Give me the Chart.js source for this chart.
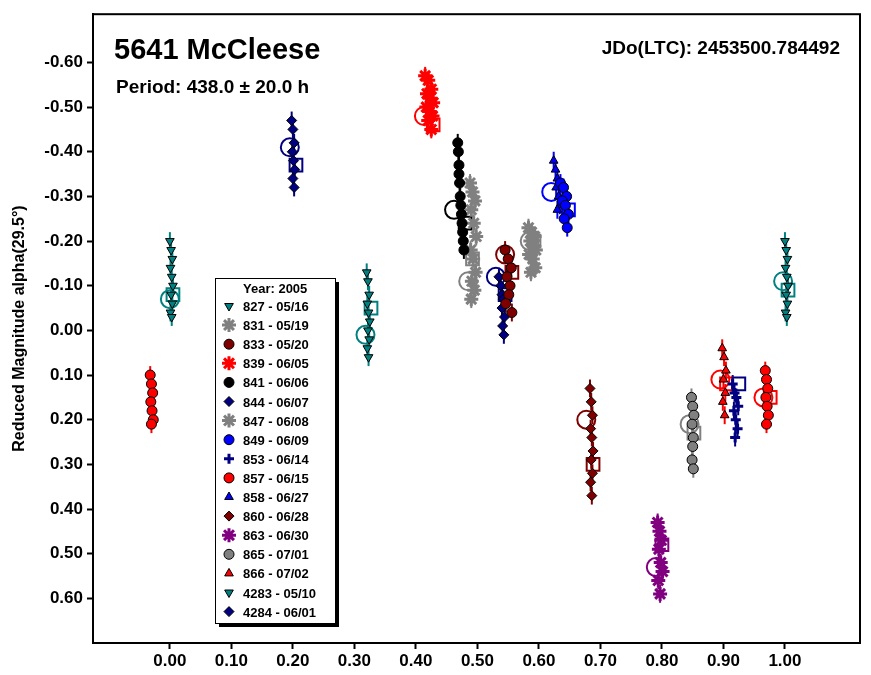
<!DOCTYPE html>
<html><head><meta charset="utf-8">
<script src="https://cdn.jsdelivr.net/npm/chart.js@4/dist/chart.umd.min.js"></script>
<style>body{margin:0;background:#fff}#wrap{width:871px;height:675px}</style>
</head><body><div id="wrap"><canvas id="c"></canvas></div>
<script>
const xTicks = [0, 0.1, 0.2, 0.3, 0.4, 0.5, 0.6, 0.7, 0.8, 0.9, 1.0]
const yTicks = [-0.6, -0.5, -0.4, -0.3, -0.2, -0.1, 0, 0.1, 0.2, 0.3, 0.4, 0.5, 0.6]

// sessions: label, color, marker, x, y
const s827x = [0.000, 0.002, 0.004, 0.001, 0.003, 0.005, 0.002, 0.004, 0.001, 0.003, 1.000, 1.002, 1.004, 1.001, 1.003, 1.005, 1.002, 1.004, 1.001, 1.003]
const s827y = [-0.20, -0.18, -0.16, -0.14, -0.12, -0.10, -0.08, -0.06, -0.04, -0.03, -0.20, -0.18, -0.16, -0.14, -0.12, -0.10, -0.08, -0.06, -0.04, -0.03]
const s831x = [0.583, 0.588, 0.593, 0.586, 0.591, 0.595, 0.584, 0.590, 0.594, 0.587]
const s831y = [-0.23, -0.22, -0.21, -0.20, -0.19, -0.18, -0.17, -0.16, -0.14, -0.13]
const s833x = [0.545, 0.550, 0.555, 0.548, 0.553, 0.551, 0.546, 0.556]
const s833y = [-0.18, -0.16, -0.14, -0.12, -0.10, -0.08, -0.06, -0.04]
const s839x = [0.415, 0.420, 0.425, 0.418, 0.423, 0.428, 0.417, 0.422, 0.427, 0.420, 0.425]
const s839y = [-0.57, -0.56, -0.54, -0.53, -0.52, -0.51, -0.50, -0.49, -0.48, -0.47, -0.45]
const s841x = [0.468, 0.469, 0.470, 0.470, 0.471, 0.472, 0.473, 0.474, 0.475, 0.476, 0.477, 0.478]
const s841y = [-0.42, -0.40, -0.37, -0.35, -0.33, -0.30, -0.28, -0.26, -0.24, -0.22, -0.20, -0.18]
const s844x = [0.535, 0.538, 0.540, 0.542, 0.540, 0.544, 0.541, 0.543]
const s844y = [-0.12, -0.10, -0.08, -0.07, -0.05, -0.03, -0.01, 0.01]
const s847x = [0.488, 0.492, 0.496, 0.490, 0.494, 0.498, 0.489, 0.493, 0.497, 0.491, 0.495, 0.490]
const s847y = [-0.33, -0.31, -0.29, -0.27, -0.24, -0.21, -0.18, -0.16, -0.13, -0.11, -0.09, -0.07]
const s849x = [0.635, 0.640, 0.645, 0.638, 0.643, 0.648, 0.641, 0.646]
const s849y = [-0.33, -0.32, -0.30, -0.29, -0.28, -0.26, -0.25, -0.23]
const s853x = [0.915, 0.918, 0.921, 0.924, 0.917, 0.920, 0.923, 0.919]
const s853y = [0.12, 0.14, 0.15, 0.17, 0.18, 0.20, 0.22, 0.24]
const s857x = [-0.032, -0.030, -0.028, -0.031, -0.029, -0.027, -0.030, 0.968, 0.970, 0.972, 0.969, 0.971, 0.973, 0.970]
const s857y = [0.10, 0.12, 0.14, 0.16, 0.18, 0.20, 0.21, 0.09, 0.11, 0.13, 0.15, 0.17, 0.19, 0.21]
const s858x = [0.624, 0.627, 0.630, 0.628, 0.632, 0.634, 0.630]
const s858y = [-0.38, -0.36, -0.34, -0.32, -0.30, -0.28, -0.27]
const s860x = [0.683, 0.685, 0.687, 0.684, 0.686, 0.688, 0.685, 0.687, 0.684, 0.686]
const s860y = [0.13, 0.16, 0.19, 0.22, 0.24, 0.27, 0.29, 0.32, 0.34, 0.37]
const s863x = [0.793, 0.796, 0.799, 0.795, 0.798, 0.801, 0.794, 0.797]
const s863y = [0.43, 0.45, 0.47, 0.49, 0.52, 0.54, 0.56, 0.59]
const s865x = [0.848, 0.850, 0.852, 0.849, 0.851, 0.850, 0.849, 0.851]
const s865y = [0.15, 0.17, 0.19, 0.21, 0.24, 0.26, 0.29, 0.31]
const s866x = [0.898, 0.901, 0.904, 0.900, 0.903, 0.899, 0.902]
const s866y = [0.04, 0.06, 0.09, 0.11, 0.14, 0.16, 0.19]
const s4283x = [0.320, 0.322, 0.324, 0.321, 0.323, 0.325, 0.322, 0.324, 0.321, 0.323]
const s4283y = [-0.13, -0.11, -0.08, -0.06, -0.04, -0.02, 0.00, 0.02, 0.04, 0.06]
const s4284x = [0.198, 0.200, 0.202, 0.199, 0.201, 0.203, 0.200, 0.202]
const s4284y = [-0.47, -0.45, -0.42, -0.40, -0.38, -0.36, -0.34, -0.32]

// session start (circle) / end (square) markers
const startX = [0.000, 0.318, 0.195, 0.413, 0.462, 0.485, 0.530, 0.545, 0.585, 0.620, 0.677, 0.790, 0.845, 0.895, 0.965, 0.997]
const startY = [-0.07, 0.01, -0.41, -0.48, -0.27, -0.11, -0.12, -0.17, -0.20, -0.31, 0.20, 0.53, 0.21, 0.11, 0.15, -0.11]
const startC = ['#008080', '#008080', '#000080', '#ff0000', '#000000', '#808080', '#000080', '#800000', '#808080', '#0000ff', '#800000', '#800080', '#808080', '#ff0000', '#ff0000', '#008080']
const endX = [0.005, 0.327, 0.205, 0.428, 0.480, 0.492, 0.545, 0.556, 0.592, 0.648, 0.688, 0.800, 0.852, 0.905, 0.925, 0.976, 1.005]
const endY = [-0.08, -0.05, -0.37, -0.46, -0.24, -0.16, -0.08, -0.13, -0.20, -0.27, 0.30, 0.48, 0.23, 0.12, 0.12, 0.15, -0.09]
const endC = ['#008080', '#008080', '#000080', '#ff0000', '#000000', '#808080', '#000080', '#800000', '#808080', '#0000ff', '#800000', '#800080', '#808080', '#ff0000', '#000080', '#ff0000', '#008080']

const sessions = [
  ['827 - 05/16', '#008080', 'tri', s827x, s827y],
  ['831 - 05/19', '#808080', 'star', s831x, s831y],
  ['833 - 05/20', '#800000', 'circle', s833x, s833y],
  ['839 - 06/05', '#ff0000', 'star', s839x, s839y],
  ['841 - 06/06', '#000000', 'circle', s841x, s841y],
  ['844 - 06/07', '#000080', 'rectRot', s844x, s844y],
  ['847 - 06/08', '#808080', 'star', s847x, s847y],
  ['849 - 06/09', '#0000ff', 'circle', s849x, s849y],
  ['853 - 06/14', '#000080', 'cross', s853x, s853y],
  ['857 - 06/15', '#ff0000', 'circle', s857x, s857y],
  ['858 - 06/27', '#0000ff', 'triangle', s858x, s858y],
  ['860 - 06/28', '#800000', 'rectRot', s860x, s860y],
  ['863 - 06/30', '#800080', 'star', s863x, s863y],
  ['865 - 07/01', '#808080', 'circle', s865x, s865y],
  ['866 - 07/02', '#ff0000', 'triangle', s866x, s866y],
  ['4283 - 05/10', '#008080', 'tri', s4283x, s4283y],
  ['4284 - 06/01', '#000080', 'rectRot', s4284x, s4284y],
]

const mkStyle = m => m === 'tri' ? 'triangle' : m
const isLine = m => m === 'star' || m === 'cross'
const datasets = sessions.map(([label, color, m, xs, ys]) => ({
  label,
  data: xs.map((x, i) => ({ x, y: ys[i] })),
  pointStyle: mkStyle(m),
  rotation: m === 'tri' ? 180 : 0,
  backgroundColor: color,
  borderColor: isLine(m) ? color : '#000',
  borderWidth: isLine(m) ? 3 : 1,
  pointRadius: m === 'star' ? 7 : 5,
  err: 0.02,
}))
datasets.push({
  label: '_start', data: startX.map((x, i) => ({ x, y: startY[i] })),
  pointStyle: 'circle', pointRadius: 9, backgroundColor: 'rgba(0,0,0,0)', borderColor: startC, borderWidth: 2
})
datasets.push({
  label: '_end', data: endX.map((x, i) => ({ x, y: endY[i] })),
  pointStyle: 'rect', pointRadius: 9, backgroundColor: 'rgba(0,0,0,0)', borderColor: endC, borderWidth: 2
})

const errorBars = {
  id: 'errorBars',
  beforeDatasetsDraw(chart) {
    const { ctx, scales: { y } } = chart
    chart.data.datasets.forEach((ds, di) => {
      if (!ds.err) return
      const meta = chart.getDatasetMeta(di)
      ctx.save()
      ctx.strokeStyle = ds.backgroundColor
      ctx.lineWidth = 2
      meta.data.forEach((p, i) => {
        const v = ds.data[i].y
        ctx.beginPath()
        ctx.moveTo(p.x, y.getPixelForValue(v - ds.err))
        ctx.lineTo(p.x, y.getPixelForValue(v + ds.err))
        ctx.stroke()
      })
      ctx.restore()
    })
  }
}

const drawMarker = (ctx, m, color, x, y) => {
  ctx.save()
  ctx.fillStyle = color
  ctx.strokeStyle = isLine(m) ? color : '#000'
  ctx.lineWidth = isLine(m) ? 3 : 1
  Chart.helpers.drawPoint(ctx, {
    pointStyle: mkStyle(m), radius: m === 'star' ? 7 : 5,
    rotation: m === 'tri' ? 180 : 0, borderWidth: isLine(m) ? 3 : 1
  }, x, y)
  ctx.restore()
}

const overlay = {
  id: 'overlay',
  afterDraw(chart) {
    const ctx = chart.ctx
    const a = chart.chartArea
    ctx.save()
    ctx.strokeStyle = '#000'
    ctx.lineWidth = 2
    ctx.strokeRect(a.left, a.top, a.right - a.left, a.bottom - a.top)
    ctx.fillStyle = '#000'
    ctx.textBaseline = 'alphabetic'
    ctx.font = 'bold 29px "Liberation Sans", Arial'
    ctx.fillText('5641 McCleese', 114, 59)
    ctx.font = 'bold 19px "Liberation Sans", Arial'
    ctx.fillText('Period: 438.0 ± 20.0 h', 116, 93)
    ctx.textAlign = 'right'
    ctx.fillText('JDo(LTC): 2453500.784492', 840, 54)
    // legend box
    ctx.textAlign = 'left'
    ctx.fillRect(219, 282, 120, 345)
    ctx.fillStyle = '#fff'
    ctx.fillRect(215, 278, 120, 345)
    ctx.lineWidth = 1
    ctx.strokeRect(215.5, 278.5, 120, 345)
    ctx.fillStyle = '#000'
    ctx.font = 'bold 13px "Liberation Sans", Arial'
    ctx.fillText('Year: 2005', 243, 293)
    sessions.forEach(([label, color, m], i) => {
      const yy = 306 + i * 19.1
      drawMarker(ctx, m, color, 229, yy)
      ctx.fillStyle = '#000'
      ctx.fillText(label, 243, yy + 5)
    })
    ctx.restore()
  }
}

const tickFont = { family: '"Liberation Sans", Arial', size: 17, weight: 'bold' }
new Chart(document.getElementById('c'), {
  type: 'scatter',
  data: { datasets },
  plugins: [errorBars, overlay],
  options: {
    responsive: true,
    maintainAspectRatio: false,
    animation: false,
    layout: { padding: { top: 8, right: 11, left: 10, bottom: 0 } },
    plugins: { legend: { display: false }, tooltip: { enabled: false } },
    scales: {
      x: {
        type: 'linear', min: -0.125, max: 1.122,
        afterBuildTicks: s => { s.ticks = xTicks.map(v => ({ value: v })) },
        afterFit: s => { s.height = 32 },
        ticks: { callback: v => v.toFixed(2), color: '#000', font: tickFont, padding: 2 },
        grid: { drawOnChartArea: false, color: '#000', tickLength: 6, tickWidth: 2 },
        border: { color: '#000', width: 2 }
      },
      y: {
        type: 'linear', reverse: true, min: -0.708, max: 0.70,
        afterBuildTicks: s => { s.ticks = yTicks.map(v => ({ value: v })) },
        afterFit: s => { s.width = 83 },
        ticks: { callback: v => (Math.abs(v) < 1e-9 ? 0 : v).toFixed(2), color: '#000', font: tickFont, padding: 4 },
        title: { display: true, text: 'Reduced Magnitude alpha(29.5°)', color: '#000', font: { family: '"Liberation Sans", Arial', size: 16, weight: 'bold' }, padding: 0 },
        grid: { drawOnChartArea: false, color: '#000', tickLength: 6, tickWidth: 2 },
        border: { color: '#000', width: 2 }
      }
    }
  }
})
</script>
</body></html>
